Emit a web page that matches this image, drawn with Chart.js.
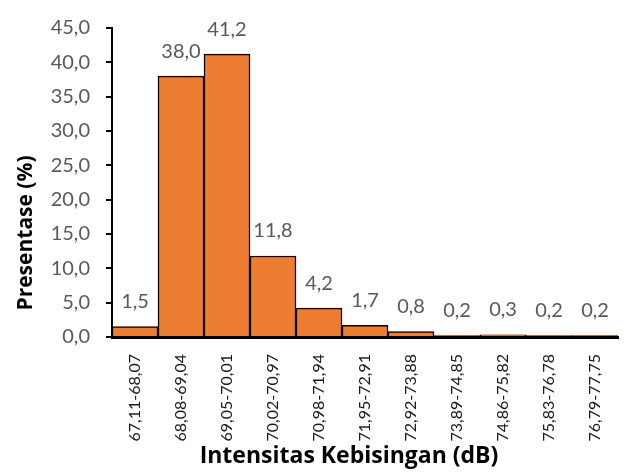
<!DOCTYPE html>
<html>
<head>
<meta charset="utf-8">
<script src="https://cdn.jsdelivr.net/npm/chart.js@4/dist/chart.umd.min.js"></script>
<style>
  html, body { margin: 0; padding: 0; background: #ffffff; }
  #wrap { width: 634px; height: 475px; }
</style>
</head>
<body>
<div id="wrap"><canvas id="chart" width="634" height="475"></canvas></div>
<script>
// Noise intensity classes (dB) and share of measurements in each class (%)
const categories = [
  '67,11-68,07', '68,08-69,04', '69,05-70,01', '70,02-70,97', '70,98-71,94',
  '71,95-72,91', '72,92-73,88', '73,89-74,85', '74,86-75,82', '75,83-76,78',
  '76,79-77,75'
];
const percentages = [1.5, 38.0, 41.2, 11.8, 4.2, 1.7, 0.8, 0.2, 0.3, 0.2, 0.2];
const yTicks = { min: 0, max: 45, step: 5 };
const xTitle = 'Intensitas Kebisingan (dB)';
const yTitle = 'Presentase (%)';

const fmt = v => v.toFixed(1).replace('.', ',');

// Writes each bar's value just above it
const valueLabels = {
  id: 'valueLabels',
  afterDatasetsDraw(chart) {
    const ctx = chart.ctx;
    const meta = chart.getDatasetMeta(0);
    ctx.save();
    ctx.font = '20px Lato';
    ctx.fillStyle = '#595959';
    ctx.textAlign = 'center';
    ctx.textBaseline = 'middle';
    meta.data.forEach((bar, i) => {
      ctx.fillText(fmt(percentages[i]), bar.x, bar.y - 25);
    });
    ctx.restore();
  }
};

// Axis titles, placed relative to the plot area
const axisTitles = {
  id: 'axisTitles',
  afterDraw(chart) {
    const ctx = chart.ctx;
    const area = chart.chartArea;
    ctx.save();
    ctx.fillStyle = '#000000';
    ctx.textAlign = 'center';
    ctx.textBaseline = 'middle';

    ctx.font = 'bold 23px "Open Sans"';
    ctx.fillText(xTitle, (area.left + area.right) / 2 - 16, area.bottom + 119);

    ctx.font = 'bold 21px "Open Sans"';
    ctx.translate(area.left - 86, area.bottom - 104);
    ctx.rotate(-Math.PI / 2);
    ctx.fillText(yTitle, 0, 0);
    ctx.restore();
  }
};

new Chart(document.getElementById('chart'), {
  type: 'bar',
  data: {
    labels: categories,
    datasets: [{
      data: percentages,
      backgroundColor: '#ED7D31',
      borderColor: '#000000',
      borderWidth: 1.5,
      barPercentage: 1.0,
      categoryPercentage: 1.0
    }]
  },
  options: {
    responsive: false,
    animation: false,
    devicePixelRatio: 1,
    layout: { padding: { top: 24, right: 16, bottom: 0, left: 0 } },
    plugins: {
      legend: { display: false },
      tooltip: { enabled: false }
    },
    scales: {
      x: {
        grid: { display: false },
        border: { display: true, color: '#000000', width: 3 },
        ticks: {
          autoSkip: false,
          minRotation: 90,
          maxRotation: 90,
          padding: 9,
          color: '#1a1a1a',
          font: { family: 'Lato', size: 16 }
        },
        afterFit(scale) { scale.height = 138; }
      },
      y: {
        min: yTicks.min,
        max: yTicks.max,
        grid: {
          drawOnChartArea: false,
          drawTicks: true,
          tickLength: 6,
          color: '#000000',
          lineWidth: 2
        },
        border: { display: true, color: '#000000', width: 2 },
        ticks: {
          stepSize: yTicks.step,
          padding: 16,
          color: '#595959',
          font: { family: 'Lato', size: 20 },
          callback: v => fmt(v)
        },
        afterFit(scale) { scale.width = 112; }
      }
    }
  },
  plugins: [valueLabels, axisTitles]
});
</script>
</body>
</html>
